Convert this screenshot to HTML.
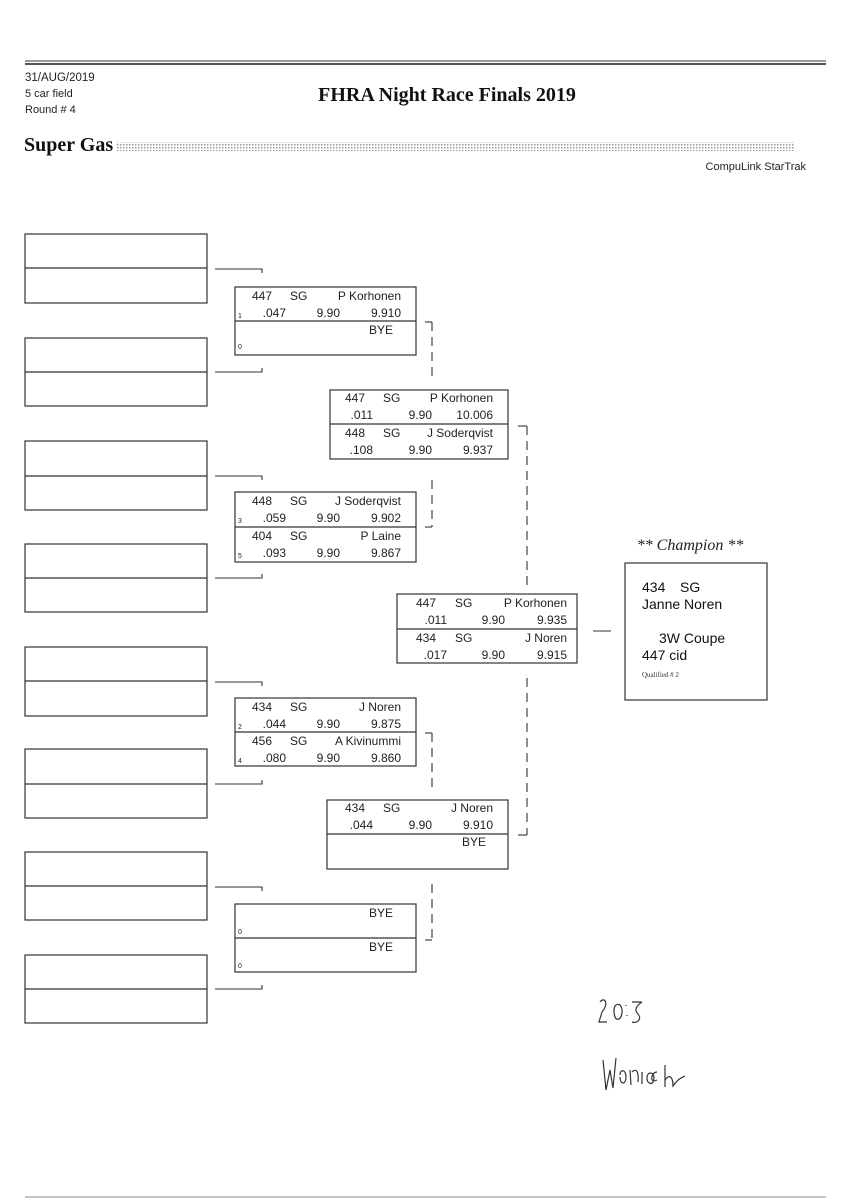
<!DOCTYPE html>
<html><head><meta charset="utf-8"><style>
html,body{margin:0;padding:0;background:#fff;}
svg{display:block;}
.m{font-family:"Liberation Sans",sans-serif;font-size:12px;fill:#222;}
.s{font-family:"Liberation Sans",sans-serif;font-size:7px;fill:#222;}
.box{fill:none;stroke:#333;stroke-width:1.2;}
.ln{stroke:#333;stroke-width:1.1;fill:none;}
.d{stroke:#333;stroke-width:1.1;fill:none;stroke-dasharray:9,6;}
</style></head><body>
<svg width="848" height="1200" viewBox="0 0 848 1200" xmlns="http://www.w3.org/2000/svg">
<defs><pattern id="dots" width="3" height="3" patternUnits="userSpaceOnUse"><rect width="1.5" height="1.5" fill="#999"/></pattern></defs>
<line x1="25" y1="61" x2="826" y2="61" stroke="#333" stroke-width="1"/>
<line x1="25" y1="64" x2="826" y2="64" stroke="#555" stroke-width="2"/>
<text x="25" y="81" font-family="Liberation Sans,sans-serif" font-size="11.5" fill="#222">31/AUG/2019</text>
<text x="25" y="97" font-family="Liberation Sans,sans-serif" font-size="11" fill="#222">5 car field</text>
<text x="25" y="113" font-family="Liberation Sans,sans-serif" font-size="11" fill="#222">Round # 4</text>
<text x="447" y="101" text-anchor="middle" font-family="Liberation Serif,serif" font-size="20" font-weight="bold" fill="#111">FHRA Night Race Finals 2019</text>
<text x="24" y="151" font-family="Liberation Serif,serif" font-size="20" font-weight="bold" fill="#111">Super Gas</text>
<rect x="116" y="142" width="679" height="9" fill="url(#dots)"/>
<text x="806" y="170" text-anchor="end" font-family="Liberation Sans,sans-serif" font-size="11" fill="#222">CompuLink StarTrak</text>

<g class="box">
<rect x="25" y="234" width="182" height="69"/><line x1="25" y1="268" x2="207" y2="268"/>
<rect x="25" y="338" width="182" height="68"/><line x1="25" y1="372" x2="207" y2="372"/>
<rect x="25" y="441" width="182" height="69"/><line x1="25" y1="476" x2="207" y2="476"/>
<rect x="25" y="544" width="182" height="68"/><line x1="25" y1="578" x2="207" y2="578"/>
<rect x="25" y="647" width="182" height="69"/><line x1="25" y1="681" x2="207" y2="681"/>
<rect x="25" y="749" width="182" height="69"/><line x1="25" y1="784" x2="207" y2="784"/>
<rect x="25" y="852" width="182" height="68"/><line x1="25" y1="886" x2="207" y2="886"/>
<rect x="25" y="955" width="182" height="68"/><line x1="25" y1="989" x2="207" y2="989"/>
</g>
<g class="ln">
<path d="M215 269H262V273"/><path d="M215 372H262V368"/>
<path d="M215 476H262V480"/><path d="M215 578H262V574"/>
<path d="M215 682H262V686"/><path d="M215 784H262V780"/>
<path d="M215 887H262V891"/><path d="M215 989H262V985"/>
</g>

<g class="box">
<rect x="235" y="287" width="181" height="68"/><line x1="235" y1="321" x2="416" y2="321"/>
<rect x="235" y="492" width="181" height="70"/><line x1="235" y1="527" x2="416" y2="527"/>
<rect x="235" y="698" width="181" height="68"/><line x1="235" y1="732" x2="416" y2="732"/>
<rect x="235" y="904" width="181" height="68"/><line x1="235" y1="938" x2="416" y2="938"/>
</g>
<g class="m">
<text x="252" y="300">447</text><text x="290" y="300">SG</text><text x="401" y="300" text-anchor="end">P Korhonen</text>
<text x="286" y="317" text-anchor="end">.047</text><text x="340" y="317" text-anchor="end">9.90</text><text x="401" y="317" text-anchor="end">9.910</text>
<text x="393" y="334" text-anchor="end">BYE</text>

<text x="252" y="505">448</text><text x="290" y="505">SG</text><text x="401" y="505" text-anchor="end">J Soderqvist</text>
<text x="286" y="522" text-anchor="end">.059</text><text x="340" y="522" text-anchor="end">9.90</text><text x="401" y="522" text-anchor="end">9.902</text>
<text x="252" y="540">404</text><text x="290" y="540">SG</text><text x="401" y="540" text-anchor="end">P Laine</text>
<text x="286" y="557" text-anchor="end">.093</text><text x="340" y="557" text-anchor="end">9.90</text><text x="401" y="557" text-anchor="end">9.867</text>

<text x="252" y="711">434</text><text x="290" y="711">SG</text><text x="401" y="711" text-anchor="end">J Noren</text>
<text x="286" y="728" text-anchor="end">.044</text><text x="340" y="728" text-anchor="end">9.90</text><text x="401" y="728" text-anchor="end">9.875</text>
<text x="252" y="745">456</text><text x="290" y="745">SG</text><text x="401" y="745" text-anchor="end">A Kivinummi</text>
<text x="286" y="762" text-anchor="end">.080</text><text x="340" y="762" text-anchor="end">9.90</text><text x="401" y="762" text-anchor="end">9.860</text>

<text x="393" y="917" text-anchor="end">BYE</text>
<text x="393" y="951" text-anchor="end">BYE</text>

<text x="345" y="402">447</text><text x="383" y="402">SG</text><text x="493" y="402" text-anchor="end">P Korhonen</text>
<text x="373" y="419" text-anchor="end">.011</text><text x="432" y="419" text-anchor="end">9.90</text><text x="493" y="419" text-anchor="end">10.006</text>
<text x="345" y="437">448</text><text x="383" y="437">SG</text><text x="493" y="437" text-anchor="end">J Soderqvist</text>
<text x="373" y="454" text-anchor="end">.108</text><text x="432" y="454" text-anchor="end">9.90</text><text x="493" y="454" text-anchor="end">9.937</text>

<text x="345" y="812">434</text><text x="383" y="812">SG</text><text x="493" y="812" text-anchor="end">J Noren</text>
<text x="373" y="829" text-anchor="end">.044</text><text x="432" y="829" text-anchor="end">9.90</text><text x="493" y="829" text-anchor="end">9.910</text>
<text x="486" y="846" text-anchor="end">BYE</text>

<text x="416" y="607">447</text><text x="455" y="607">SG</text><text x="567" y="607" text-anchor="end">P Korhonen</text>
<text x="447" y="624" text-anchor="end">.011</text><text x="505" y="624" text-anchor="end">9.90</text><text x="567" y="624" text-anchor="end">9.935</text>
<text x="416" y="642">434</text><text x="455" y="642">SG</text><text x="567" y="642" text-anchor="end">J Noren</text>
<text x="447" y="659" text-anchor="end">.017</text><text x="505" y="659" text-anchor="end">9.90</text><text x="567" y="659" text-anchor="end">9.915</text>
</g>
<g class="s">
<text x="238" y="318">1</text><text x="238" y="349">0</text>
<text x="238" y="523">3</text><text x="238" y="558">5</text>
<text x="238" y="729">2</text><text x="238" y="763">4</text>
<text x="238" y="934">0</text><text x="238" y="968">0</text>
</g>

<g class="box">
<rect x="330" y="390" width="178" height="69"/><line x1="330" y1="424" x2="508" y2="424"/>
<rect x="327" y="800" width="181" height="69"/><line x1="327" y1="834" x2="508" y2="834"/>
<rect x="397" y="594" width="180" height="69"/><line x1="397" y1="629" x2="577" y2="629"/>
<rect x="625" y="563" width="142" height="137"/>
</g>

<path class="ln" d="M425 322H432"/><path class="d" d="M432 322V380"/>
<path class="d" d="M432 480V527"/><path class="ln" d="M425 527H432"/>
<path class="ln" d="M425 733H432"/><path class="d" d="M432 733V790"/>
<path class="d" d="M432 884V940"/><path class="ln" d="M425 940H432"/>
<path class="ln" d="M518 426H527"/><path class="d" d="M527 426V590"/>
<path class="d" d="M527 678V835"/><path class="ln" d="M518 835H527"/>
<path class="ln" d="M593 631H611"/>

<text x="690" y="550" text-anchor="middle" font-family="Liberation Serif,serif" font-style="italic" font-size="16" fill="#222">** Champion **</text>
<g font-family="Liberation Sans,sans-serif" font-size="14" fill="#111">
<text x="642" y="592">434</text><text x="680" y="592">SG</text>
<text x="642" y="609">Janne Noren</text>
<text x="659" y="643">3W Coupe</text>
<text x="642" y="660">447 cid</text>
</g>
<text x="642" y="677" font-family="Liberation Serif,serif" font-size="7" fill="#333">Qualified # 2</text>

<g stroke="#333" stroke-width="1.2" fill="none">
<path d="M600 1002c5-6 9 2 2 10l-3 10h8M614 1010c0-8 9-8 8 3-1 8-8 10-8-3M626 1005v1M627 1015v1M632 1002h9M642 1002c-6 4-8 8-4 12 4 4 0 10-6 8"/>
<path d="M603 1060l3 30 4-20 3 18 3-30M620 1075c0-6 6-6 6 2s-6 8-6 0M630 1070l1 15M632 1072c4-4 7-1 6 10M642 1072v12M647 1078c0-8 10-6 6 4-2 3-6 1-6-4M657 1072c-6 0-8 12 0 8M665 1065v22M665 1080c6-8 8 0 8 6 6-8 8-8 12-10"/>
</g>
<line x1="25" y1="1197" x2="826" y2="1197" stroke="#888" stroke-width="1"/>
</svg>
</body></html>
